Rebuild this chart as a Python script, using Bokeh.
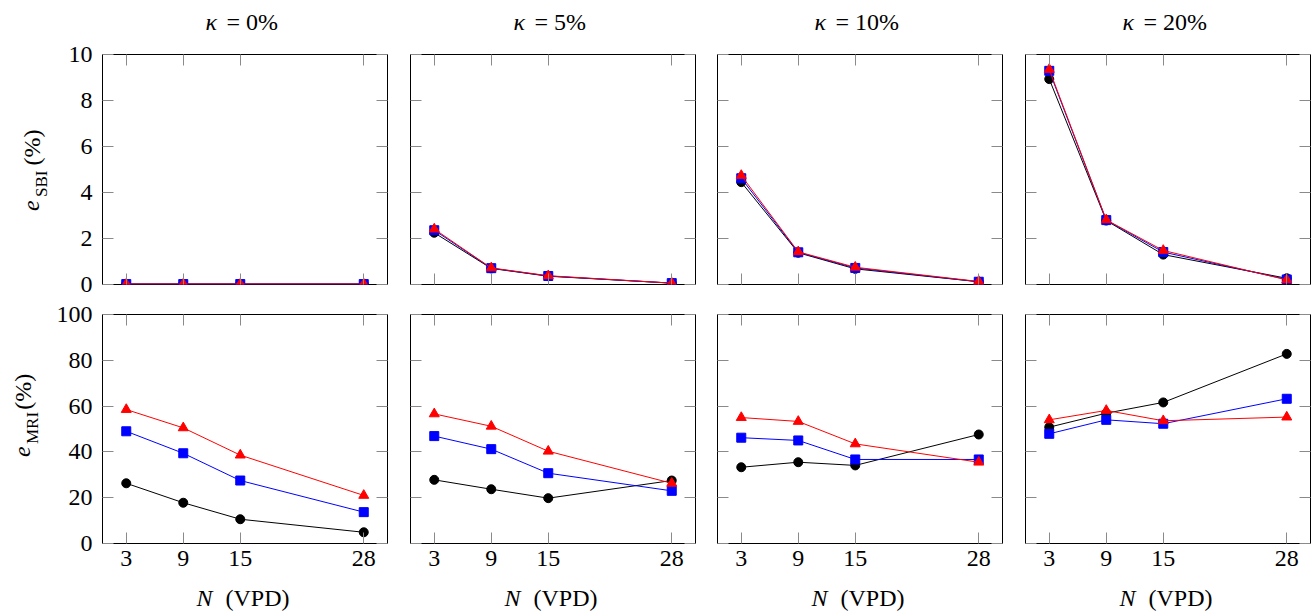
import numpy as np
from bokeh.plotting import figure
from bokeh.layouts import column, row
from bokeh.models import Range1d, FixedTicker, LinearAxis, Label
from bokeh.embed import file_html
from bokeh.resources import INLINE

# ---------------- data ----------------
N_vpd = [3, 9, 15, 28]
kappa_labels = ["0%", "5%", "10%", "20%"]
x_ticks = [3, 9, 15, 28]
sbi_ticks = [0, 2, 4, 6, 8, 10]
mri_ticks = [0, 20, 40, 60, 80, 100]

# e_SBI (%) per kappa panel
sbi_black = [[0.02, 0.02, 0.02, 0.02],
             [2.25, 0.70, 0.36, 0.06],
             [4.45, 1.38, 0.68, 0.12],
             [8.93, 2.78, 1.30, 0.27]]
sbi_blue = [[0.02, 0.02, 0.02, 0.02],
            [2.36, 0.71, 0.37, 0.06],
            [4.62, 1.40, 0.72, 0.12],
            [9.29, 2.80, 1.41, 0.22]]
sbi_red = [[0.02, 0.02, 0.02, 0.02],
           [2.41, 0.72, 0.38, 0.06],
           [4.74, 1.42, 0.75, 0.13],
           [9.35, 2.81, 1.48, 0.20]]

# e_MRI (%) per kappa panel
mri_black = [[26.3, 17.8, 10.6, 4.9],
             [27.8, 23.7, 19.8, 27.5],
             [33.3, 35.5, 34.1, 47.6],
             [50.8, 56.9, 61.6, 82.8]]
mri_blue = [[49.0, 39.4, 27.5, 13.7],
            [46.9, 41.2, 30.7, 23.0],
            [46.2, 45.0, 36.7, 36.7],
            [47.9, 54.0, 52.3, 63.2]]
mri_red = [[58.5, 50.5, 38.6, 21.0],
           [56.6, 51.2, 40.3, 26.3],
           [55.0, 53.3, 43.5, 35.5],
           [54.0, 58.1, 53.6, 55.2]]

# ---------------- layout ----------------
W = 1312
FW = 285
FH = [230, 229]
WY = 50                      # width of y-label strip
LB = [52, 12, 11, 12]
RB = [11, 11, 11, 2]
TB = [18, 15]
BB = [15, 37]
TITLE_H = 36
XLAB_H = 35
FONT = "Liberation Serif"
TICK_COL = "#8a8a8a"
FRAME_LEFT = [102, 410, 717, 1025]
BASE_SHIFT = 0.36            # Label anchor sits this many em above the baseline


def style_axis(ax, ticks, show):
    ax.ticker = FixedTicker(ticks=ticks)
    ax.axis_line_color = None
    ax.major_tick_in = 11
    ax.major_tick_out = 0
    ax.minor_tick_line_color = None
    ax.major_tick_line_color = TICK_COL
    ax.major_tick_line_width = 1
    if show:
        ax.major_label_text_font = FONT
        ax.major_label_text_font_size = "24px"
        ax.major_label_text_color = "black"
    else:
        ax.major_label_text_font_size = "1px"
        ax.major_label_text_color = None
        ax.major_label_standoff = 0


def text_strip(w, h):
    p = figure(width=w, height=h, x_range=Range1d(0, w), y_range=Range1d(0, h),
               x_axis_location=None, y_axis_location=None, title=None,
               output_backend="svg", toolbar_location=None, tools="",
               min_border=0)
    p.grid.visible = False
    p.outline_line_color = None
    p.background_fill_color = "white"
    p.border_fill_color = "white"
    return p


def lbl(p, x, y, text, fs=24, italic=False, rotated=False):
    """x, y: start of the text baseline (strip pixels, y upwards)."""
    if rotated:
        x = x - BASE_SHIFT * fs
        ang = np.pi / 2
    else:
        y = y + BASE_SHIFT * fs
        ang = 0.0
    p.add_layout(Label(x=x, y=y, text=text,
                       angle=ang, text_align="left", text_baseline="alphabetic",
                       text_font=FONT, text_font_size=f"{fs}px",
                       text_font_style="italic" if italic else "normal",
                       text_color="black"))


def make_panel(r, c):
    ymax = 10 if r == 0 else 100
    yt = sbi_ticks if r == 0 else mri_ticks
    p = figure(frame_width=FW, frame_height=FH[r], title=None,
               x_range=Range1d(0.5, 30.5), y_range=Range1d(0, ymax),
               output_backend="svg", toolbar_location=None, tools="",
               min_border_left=LB[c], min_border_right=RB[c],
               min_border_top=TB[r], min_border_bottom=BB[r])
    p.grid.visible = False
    p.outline_line_color = "black"
    p.outline_line_width = 1
    p.outline_line_alpha = 1
    p.background_fill_color = "white"
    p.border_fill_color = "white"

    style_axis(p.xaxis[0], x_ticks, r == 1)
    p.xaxis[0].major_label_standoff = 7 if r == 1 else 0
    style_axis(p.yaxis[0], yt, c == 0)
    if c == 0:
        p.yaxis[0].major_label_standoff = 10
    ax_top = LinearAxis()
    style_axis(ax_top, x_ticks, False)
    p.add_layout(ax_top, "above")
    ax_r = LinearAxis()
    style_axis(ax_r, yt, False)
    p.add_layout(ax_r, "right")

    if r == 0:
        ys = [sbi_black[c], sbi_blue[c], sbi_red[c]]
    else:
        ys = [mri_black[c], mri_blue[c], mri_red[c]]
    styles = [("black", "circle", 9), ("#0000ff", "square", 9), ("#ff0000", "triangle", 10)]
    for y, (col, mk, sz) in zip(ys, styles):
        p.line(N_vpd, y, line_color=col, line_width=1)
        p.scatter(N_vpd, y, marker=mk, size=sz, fill_color=col, line_color=col)
    return p


# title strip (baseline 30 px from the page top)
title = text_strip(W, TITLE_H)
for c in range(4):
    kx = FRAME_LEFT[c] + (103 if len(kappa_labels[c]) == 2 else 97)
    lbl(title, kx, TITLE_H - 30, "κ", italic=True)
    lbl(title, kx + 21, TITLE_H - 30, "= " + kappa_labels[c])

# y-label strips
h1 = TB[0] + FH[0] + BB[0]
h2 = TB[1] + FH[1] + BB[1]
ylab1 = text_strip(WY, h1)
lbl(ylab1, 40, 84, "e", italic=True, rotated=True)
lbl(ylab1, 47, 100, "SBI", fs=17, rotated=True)
lbl(ylab1, 40, 136, "(%)", rotated=True)
ylab2 = text_strip(WY, h2)
lbl(ylab2, 31, 106, "e", italic=True, rotated=True)
lbl(ylab2, 38, 122, "MRI", fs=17, rotated=True)
lbl(ylab2, 31, 164, "(%)", rotated=True)

# x-label strip
xlab = text_strip(W, XLAB_H)
for c in range(4):
    lbl(xlab, FRAME_LEFT[c] + 94, 9, "N", italic=True)
    lbl(xlab, FRAME_LEFT[c] + 123, 9, "(VPD)")

row1 = row(ylab1, *[make_panel(0, c) for c in range(4)], spacing=0)
row2 = row(ylab2, *[make_panel(1, c) for c in range(4)], spacing=0)
layout = column(title, row1, row2, xlab, spacing=0)

open("out.html", "w").write(file_html(layout, INLINE))
